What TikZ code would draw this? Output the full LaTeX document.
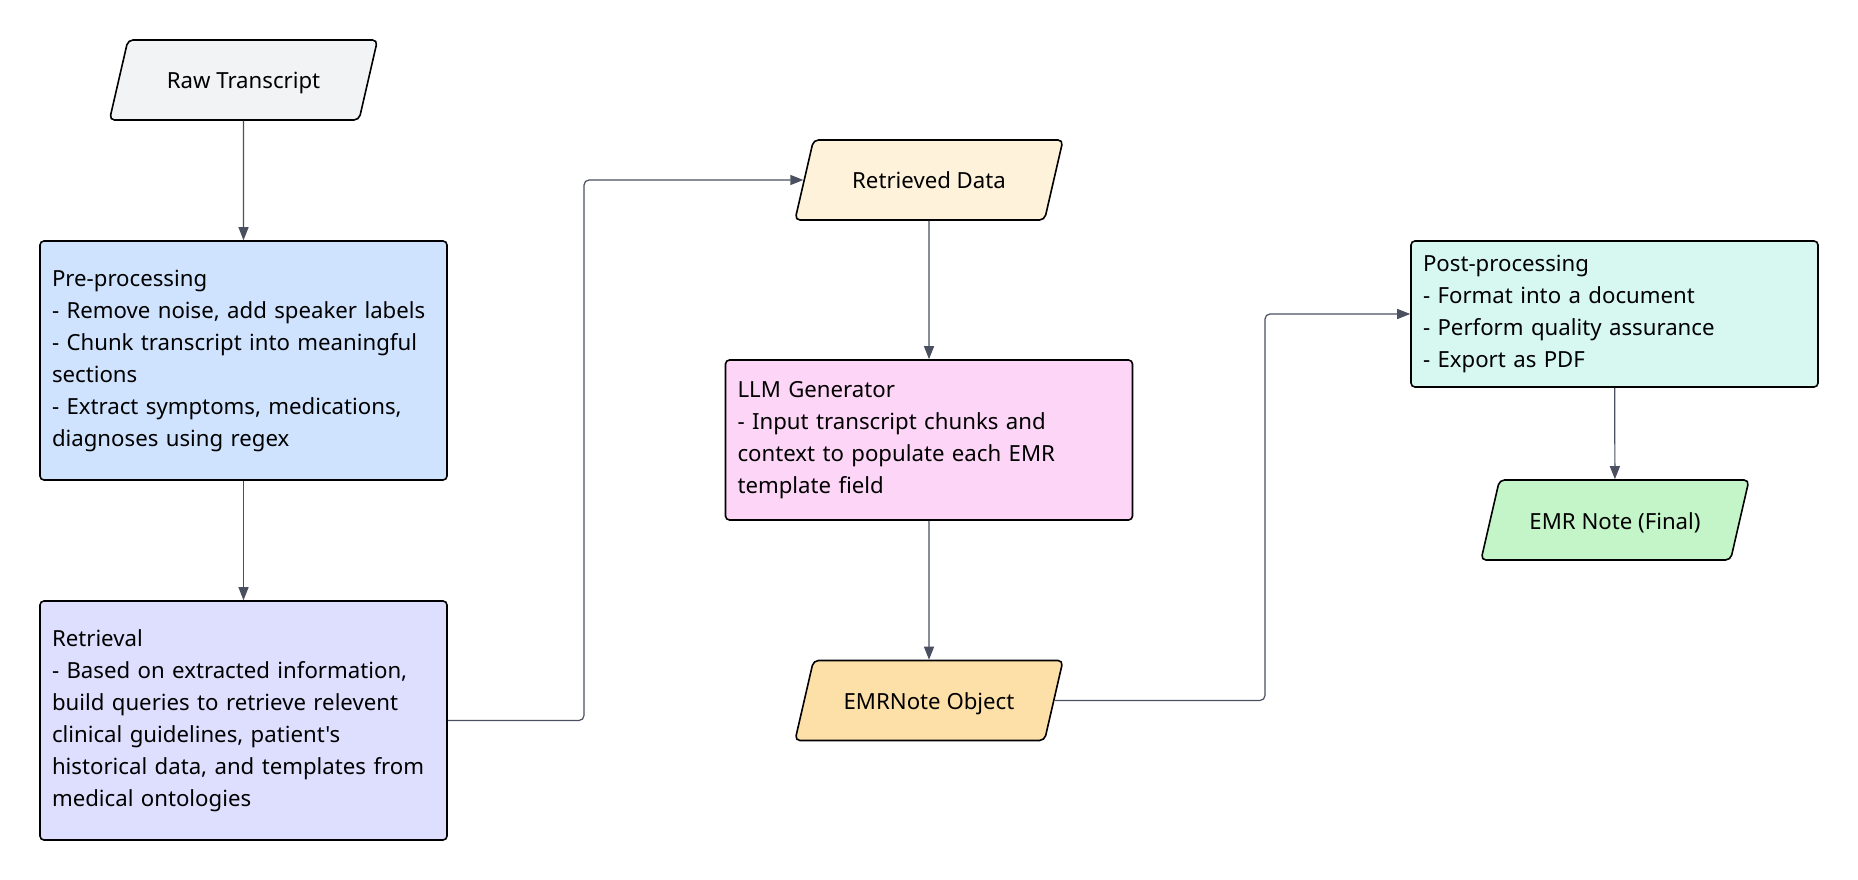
\documentclass[tikz,border=0pt]{standalone}
\usepackage{fontspec}
\setmainfont{Noto Sans}[Ligatures=TeXOff]
\usetikzlibrary{shapes.geometric,arrows.meta}
\definecolor{rawgray}{HTML}{F2F3F5}
\definecolor{preblue}{HTML}{CFE3FF}
\definecolor{retviolet}{HTML}{DEDFFE}
\definecolor{rdamber}{HTML}{FEF2DA}
\definecolor{llmpink}{HTML}{FDD5F6}
\definecolor{emrorange}{HTML}{FDDFA8}
\definecolor{postteal}{HTML}{D6F8F1}
\definecolor{fingreen}{HTML}{C3F5C8}
\definecolor{linkgray}{HTML}{4A5060}
\begin{document}
\begin{tikzpicture}[x=1pt,y=-1pt,
        txt/.style={font=\fontsize{22.2}{32}\selectfont},
        box/.style={txt, draw, line width=1.6pt, rounded corners=4pt, rectangle,
                text width=383pt, inner xsep=12pt, align=left, minimum width=407pt},
        para/.style={txt, draw, line width=1.6pt, rounded corners=5pt, trapezium,
                trapezium left angle=77, trapezium right angle=103, trapezium stretches body,
                text height=20pt, text depth=2pt, inner ysep=29pt, inner xsep=6pt,
                minimum width=268pt, align=center},
        link/.style={draw=linkgray, line width=1.2pt, rounded corners=5pt,
                -{Triangle[length=13pt,width=10pt]}}]
    \useasboundingbox (0,0) rectangle (1858,880);
    % left column
    \node[para, fill=rawgray] (raw) at (243.5,80) {Raw Transcript};
    \node[box, fill=preblue, minimum height=239pt] (pre) at (243.5,360.5) {Pre-processing\\
        - Remove noise, add speaker labels\\
        - Chunk transcript into meaningful\\
        sections\\
        - Extract symptoms, medications,\\
        diagnoses using regex};
    \node[box, fill=retviolet, minimum height=239pt] (ret) at (243.5,720.5) {Retrieval\\
        - Based on extracted information,\\
        build queries to retrieve relevent\\
        clinical guidelines, patient's\\
        historical data, and templates from\\
        medical ontologies};
    % middle column
    \node[para, fill=rdamber] (rd) at (929,180) {Retrieved Data};
    \node[box, fill=llmpink, minimum height=160pt] (llm) at (929,440) {LLM Generator\\
        - Input transcript chunks and\\
        context to populate each EMR\\
        template field};
    \node[para, fill=emrorange] (emr) at (929,700.5) {EMRNote Object};
    % right column
    \node[box, fill=postteal, minimum height=146pt] (post) at (1614.5,314) {Post-processing\\
        - Format into a document\\
        - Perform quality assurance\\
        - Export as PDF};
    \node[para, fill=fingreen] (fin) at (1615,520) {EMR Note (Final)};
    % bends of the elbow links
    \coordinate (b1) at (584,720.5);
    \coordinate (b2) at (1265,700.5);
    \draw[link] (raw) -- (pre);
    \draw[link] (pre) -- (ret);
    \draw[link] (ret.east) -- (b1) |- (rd.west);
    \draw[link] (rd) -- (llm);
    \draw[link] (llm) -- (emr);
    \draw[link] (emr.east) -- (b2) |- (post.west);
    \draw[link] (post) -- (fin);
\end{tikzpicture}
\end{document}
